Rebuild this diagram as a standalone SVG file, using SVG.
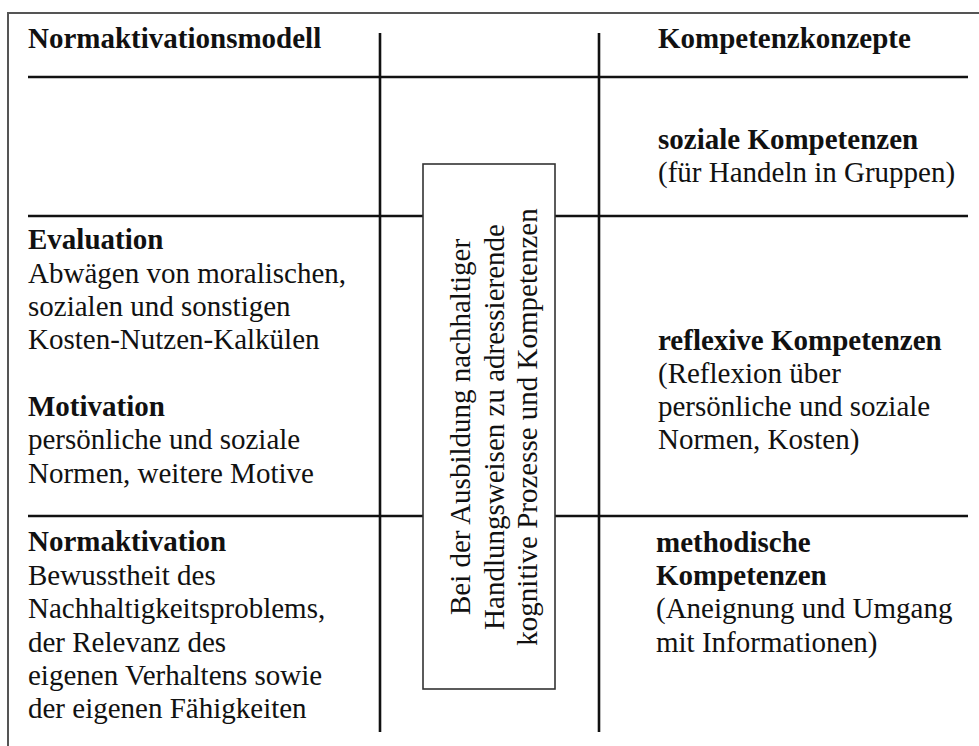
<svg xmlns="http://www.w3.org/2000/svg" width="979" height="746" viewBox="0 0 979 746">
<style>
text{font-family:"Liberation Serif","Times New Roman",serif;font-size:29px;fill:#111}
.b{font-weight:bold}
.rule{stroke:#111;stroke-width:2.6;fill:none}
.frame{stroke:#555;stroke-width:2;fill:none}
.box{stroke:#333;stroke-width:1.6;fill:#fff}
</style>
<rect width="979" height="746" fill="#fff"/>
<g id="frame">
<path class="frame" d="M979,13 H8 V746"/>
</g>
<g id="connectors">
<path class="rule" d="M28,77 H968"/>
<path class="rule" d="M28,216 H423 M555,216 H968"/>
<path class="rule" d="M28,516 H423 M555,516 H968"/>
<path class="rule" d="M380,33 V732"/>
<path class="rule" d="M599,33 V732"/>
</g>
<g id="header-left">
<text class="b" x="28" y="48">Normaktivationsmodell</text>
</g>
<g id="header-right">
<text class="b" x="658" y="48">Kompetenzkonzepte</text>
</g>
<g id="soziale">
<text class="b" x="658" y="149">soziale Kompetenzen</text>
<text x="658" y="182">(für Handeln in Gruppen)</text>
</g>
<g id="evaluation">
<text class="b" x="28" y="249">Evaluation</text>
<text x="28" y="283">Abwägen von moralischen,</text>
<text x="28" y="316">sozialen und sonstigen</text>
<text x="28" y="349">Kosten-Nutzen-Kalkülen</text>
</g>
<g id="motivation">
<text class="b" x="28" y="416">Motivation</text>
<text x="28" y="449">persönliche und soziale</text>
<text x="28" y="483">Normen, weitere Motive</text>
</g>
<g id="reflexive">
<text class="b" x="658" y="350">reflexive Kompetenzen</text>
<text x="658" y="383">(Reflexion über</text>
<text x="658" y="416">persönliche und soziale</text>
<text x="658" y="449">Normen, Kosten)</text>
</g>
<g id="normaktivation">
<text class="b" x="28" y="551">Normaktivation</text>
<text x="28" y="585">Bewusstheit des</text>
<text x="28" y="618">Nachhaltigkeitsproblems,</text>
<text x="28" y="652">der Relevanz des</text>
<text x="28" y="685">eigenen Verhaltens sowie</text>
<text x="28" y="718">der eigenen Fähigkeiten</text>
</g>
<g id="methodische">
<text class="b" x="656" y="552">methodische</text>
<text class="b" x="656" y="585">Kompetenzen</text>
<text x="656" y="618">(Aneignung und Umgang</text>
<text x="656" y="652">mit Informationen)</text>
</g>
<g id="center-box">
<rect class="box" x="423" y="164" width="132" height="525"/>
<text text-anchor="middle" transform="translate(470,427) rotate(-90)">Bei der Ausbildung nachhaltiger</text>
<text text-anchor="middle" transform="translate(503.5,427) rotate(-90)">Handlungsweisen zu adressierende</text>
<text text-anchor="middle" transform="translate(537,427) rotate(-90)">kognitive Prozesse und Kompetenzen</text>
</g>
</svg>
